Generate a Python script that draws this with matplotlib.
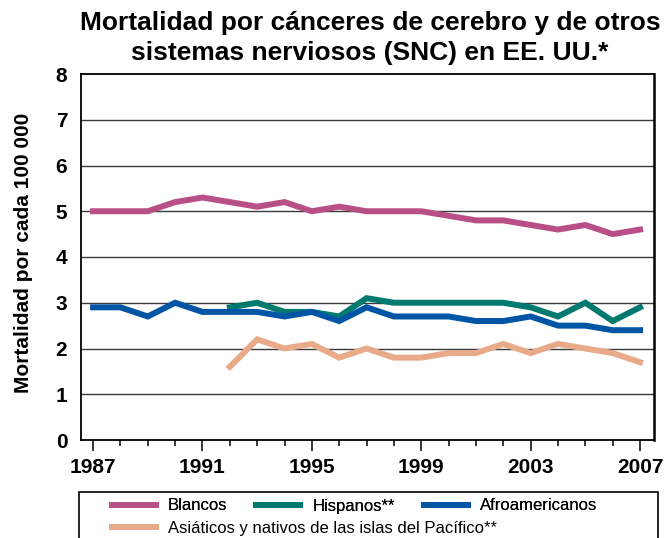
import matplotlib
matplotlib.use("Agg")
import matplotlib.pyplot as plt
from matplotlib.lines import Line2D
from matplotlib.patches import Rectangle
import numpy as np

plt.rcParams['font.family'] = ['Liberation Sans', 'DejaVu Sans']

years = list(range(1987, 2008))
years_sub = list(range(1992, 2008))

blancos = [5.0, 5.0, 5.0, 5.2, 5.3, 5.2, 5.1, 5.2, 5.0, 5.1, 5.0,
           5.0, 5.0, 4.9, 4.8, 4.8, 4.7, 4.6, 4.7, 4.5, 4.6]
afro = [2.9, 2.9, 2.7, 3.0, 2.8, 2.8, 2.8, 2.7, 2.8, 2.6, 2.9,
        2.7, 2.7, 2.7, 2.6, 2.6, 2.7, 2.5, 2.5, 2.4, 2.4]
hispanos = [2.9, 3.0, 2.8, 2.8, 2.7, 3.1, 3.0, 3.0, 3.0, 3.0, 3.0,
            2.9, 2.7, 3.0, 2.6, 2.9]
asiaticos = [1.6, 2.2, 2.0, 2.1, 1.8, 2.0, 1.8, 1.8, 1.9, 1.9, 2.1,
             1.9, 2.1, 2.0, 1.9, 1.7]

labels = ["Blancos", "Hispanos**", "Afroamericanos",
          "Asiáticos y nativos de las islas del Pacífico**"]
colors = ["#B94F87", "#007A6E", "#0055A5", "#E8AA88"]
xtick_labels = [1987, 1991, 1995, 1999, 2003, 2007]
yticks = list(range(0, 9))

W, H = 667, 538
fig = plt.figure(figsize=(W / 100, H / 100), dpi=100)
ax = fig.add_axes([80.5 / W, 1 - 440 / H, (654 - 80.5) / W, (440 - 74) / H])

lw = 4.3
ax.plot(years, blancos, color=colors[0], lw=lw, solid_joinstyle='miter', zorder=3)
ax.plot(years_sub, asiaticos, color=colors[3], lw=lw, solid_joinstyle='miter', zorder=3)
ax.plot(years, afro, color=colors[2], lw=lw, solid_joinstyle='miter', zorder=4)
ax.plot(years_sub, hispanos, color=colors[1], lw=lw, solid_joinstyle='miter', zorder=3)

ax.set_xlim(1986.54, 2007.51)
ax.set_ylim(0, 8)
ax.set_yticks(yticks)
ax.set_yticklabels([str(v) for v in yticks], fontsize=15, fontweight='bold')
ax.tick_params(axis='y', length=0, pad=9.5)
ax.set_xticks(xtick_labels)
ax.set_xticklabels([str(v) for v in xtick_labels], fontsize=15, fontweight='bold')
ax.set_xticks(years, minor=True)
ax.tick_params(axis='x', which='major', length=8, width=1.1, pad=5, direction='out')
ax.tick_params(axis='x', which='minor', length=4.5, width=1.1, direction='out')

for v in yticks[1:-1]:
    ax.axhline(v, color='#3a3a3a', lw=1.0, zorder=1)

for s in ['left', 'top', 'bottom']:
    ax.spines[s].set_linewidth(1.3)
ax.spines['right'].set_linewidth(1.8)

ax.set_ylabel("Mortalidad por cada 100 000", fontsize=15, fontweight='bold')
ax.yaxis.set_label_coords(-0.083, 0.51)

fig.text(370 / W, 1 - 38 / H,
         "Mortalidad por cánceres de cerebro y de otros\nsistemas nerviosos (SNC) en EE. UU.*",
         ha='center', va='center', fontsize=19, fontweight='bold', linespacing=1.3)

# Legend
handles = [Line2D([], [], color=c, lw=lw, solid_capstyle='butt') for c in colors]
leg_kw = dict(frameon=False, fontsize=12, handlelength=3.0, handletextpad=0.54,
              columnspacing=1.55, borderpad=0, borderaxespad=0, loc='center left')
leg1 = fig.legend(handles[:3], labels[:3], ncol=3,
                  bbox_to_anchor=(109 / W, 1 - 506 / H), **leg_kw)
leg2 = fig.legend(handles[3:], labels[3:], ncol=1,
                  bbox_to_anchor=(109 / W, 1 - 528 / H), **leg_kw)
fig.add_artist(leg1)
rect = Rectangle((79 / W, -0.05), (658 - 79) / W, (538 - 492) / H + 0.05,
                 transform=fig.transFigure, fill=False, edgecolor='black', lw=1.2)
fig.add_artist(rect)

fig.savefig("out.png", dpi=100)
